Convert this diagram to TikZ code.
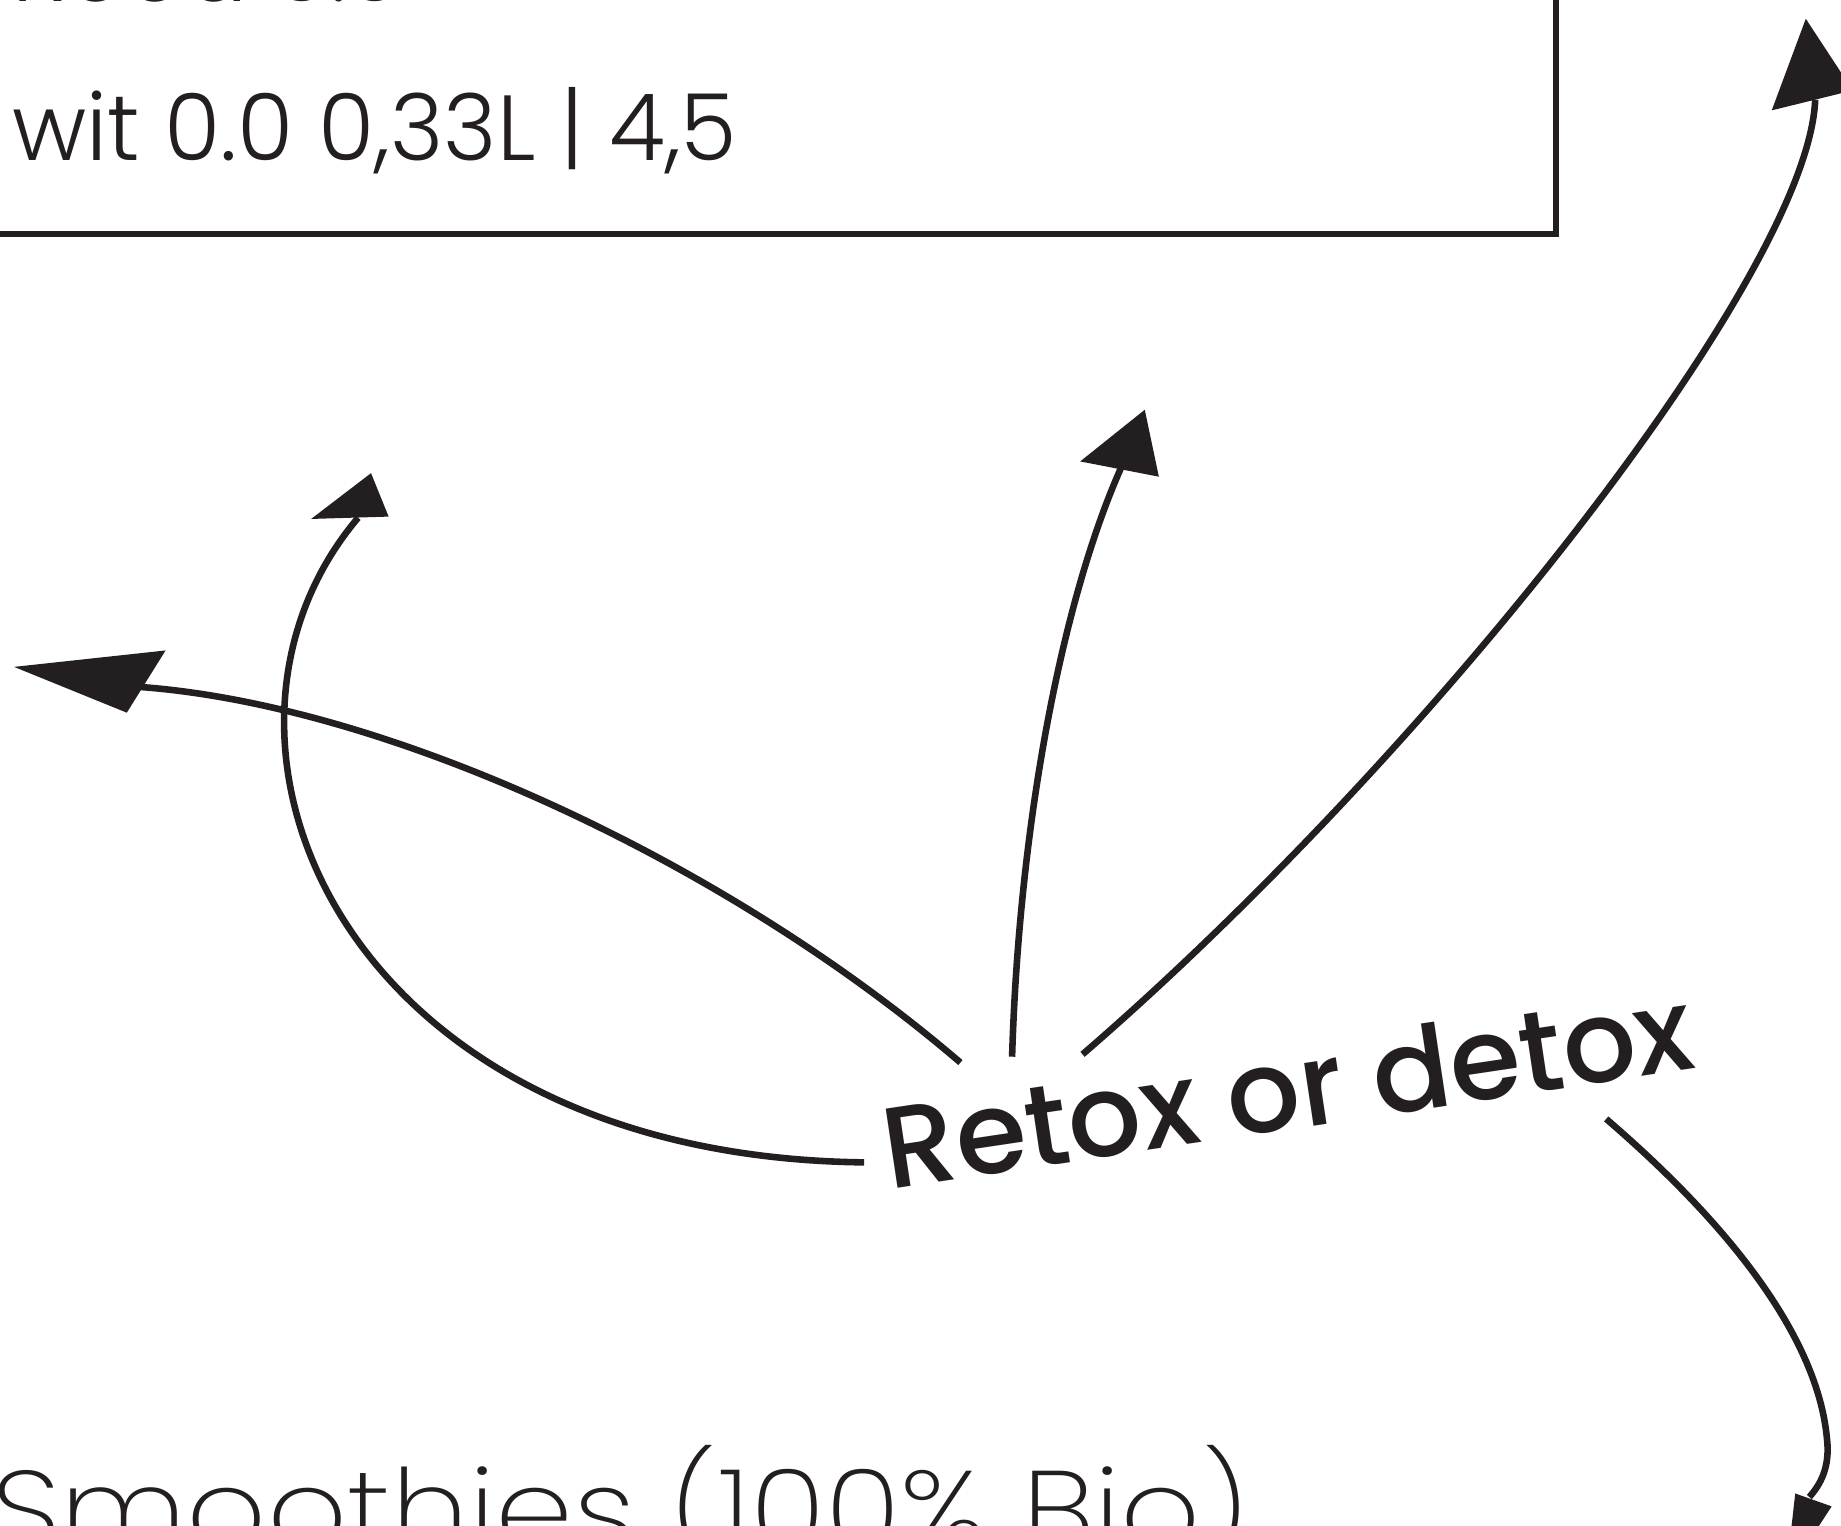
\documentclass[tikz,border=0pt]{standalone}
\usepackage{fontspec}
\setmainfont{Poppins}
\newfontfamily\lightfont{Poppins Light}
\newfontfamily\thinfont{Poppins ExtraLight}
\newfontfamily\medfont{Poppins Medium}
\definecolor{ink}{HTML}{231F20}
\begin{document}
\begin{tikzpicture}[x=0.5pt,y=-0.5pt,
  conn/.style={draw=ink, line width=2.8pt},
  tipfill/.style={fill=ink, draw=none},
  boxline/.style={draw=ink, line width=2.6pt},
  spectext/.style={anchor=base west, inner sep=0pt, text=ink, font=\lightfont\fontsize{39.4}{40}\selectfont},
  bigtext/.style={anchor=base west, inner sep=0pt, text=ink, font=\medfont\fontsize{49}{50}\selectfont},
  thintext/.style={anchor=base west, inner sep=0pt, text=ink, font=\thinfont\fontsize{47.5}{50}\selectfont}]
\useasboundingbox (0,0) rectangle (1568,1299);
\clip (0,0) rectangle (1568,1299);
\fill[white] (0,0) rectangle (1568,1299);

% box (partly outside the picture)
\draw[boxline] (-30,-30) rectangle (1325,199);
\node[spectext] (topline) at (10,1) {Rood 0.0};
\node[spectext] (spec) at (10,137) {\scalebox{0.985}[1]{wit 0.0 0,33L | 4,5}};

% central label
\node[bigtext, rotate=8.5] (retox) at (757,1013) {Retox or detox};

% bottom label
\node[thintext] (smooth) at (-8,1320) {\scalebox{1.12}[1]{Smoothies (100\% Bio)}};

% connector ends
\coordinate (a0) at (818,905);  \coordinate (a1) at (118,585);
\coordinate (b0) at (736,990);  \coordinate (b1) at (305,441);
\coordinate (c0) at (862,900);  \coordinate (c1) at (955,398);
\coordinate (d0) at (922,898);  \coordinate (d1) at (1546,85);
\coordinate (e0) at (1368,953); \coordinate (e1) at (1541,1275);

% A: to the far left
\draw[conn] (a0) .. controls (620,735) and (330,600) .. (a1);
\fill[tipfill] (12,568) -- (141,554) -- (108,607) -- cycle;

% B: loop up-left
\draw[conn] (b0) .. controls (290,985) and (145,630) .. (b1);
\fill[tipfill] (265,442) -- (316,403) -- (331,440) -- cycle;

% C: up middle
\draw[conn] (c0) .. controls (868,700) and (905,510) .. (c1);
\fill[tipfill] (920,393) -- (975,349) -- (987,406) -- cycle;

% D: up right
\draw[conn] (d0) .. controls (1215,645) and (1540,235) .. (d1);
\fill[tipfill] (1509,94) -- (1538,16) -- (1578,77) -- cycle;

% E: down right
\draw[conn] (e0) .. controls (1475,1045) and (1548,1140) .. (1556,1225)
  .. controls (1559,1250) and (1550,1265) .. (e1);
\fill[tipfill] (1529,1272) -- (1560,1283) -- (1521,1343) -- cycle;
\end{tikzpicture}
\end{document}
